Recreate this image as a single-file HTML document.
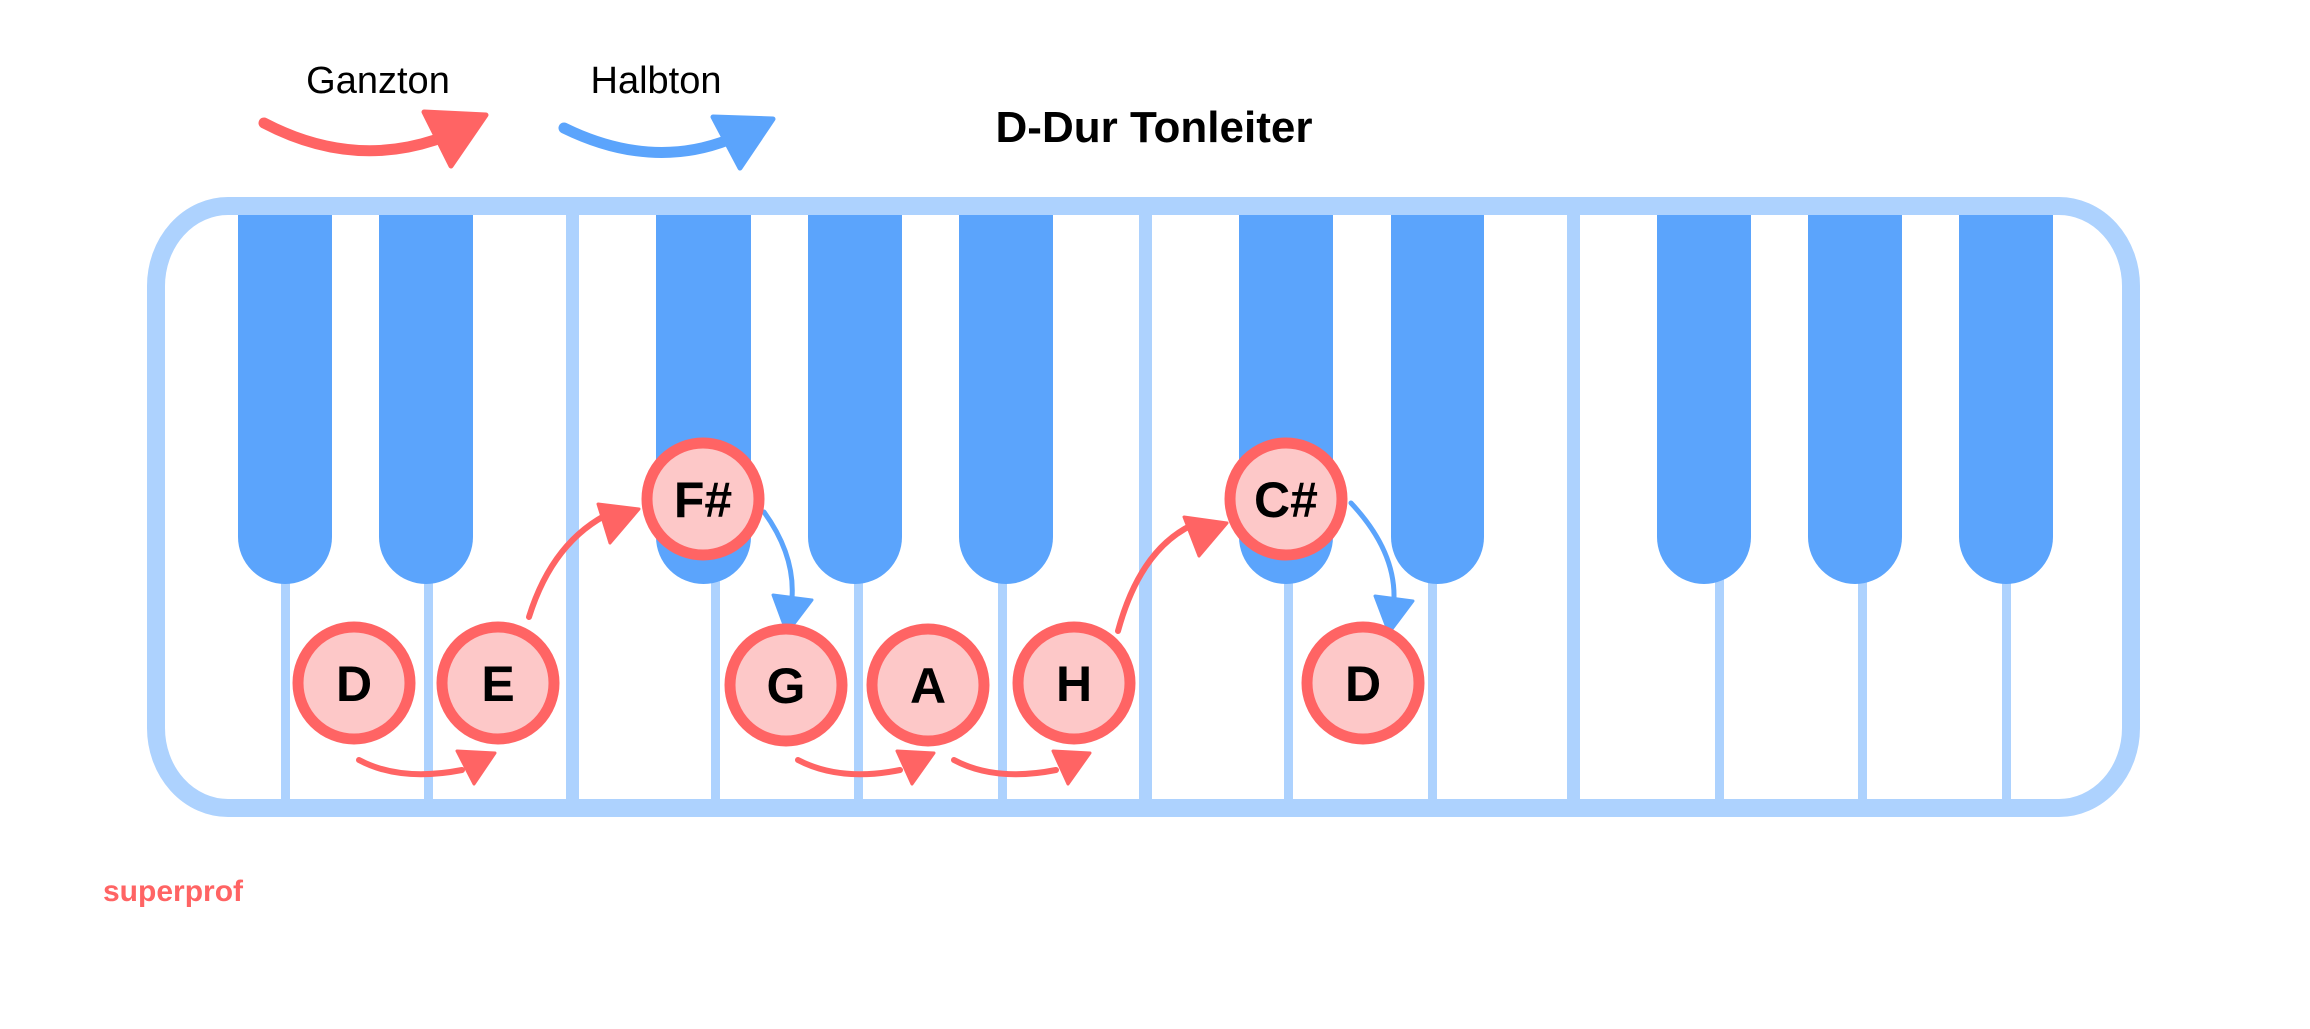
<!DOCTYPE html>
<html><head><meta charset="utf-8"><style>
html,body{margin:0;padding:0;background:#fff;}
svg{display:block;}
</style></head><body>
<svg width="2310" height="1029" viewBox="0 0 2310 1029" xmlns="http://www.w3.org/2000/svg">
<rect width="2310" height="1029" fill="#fff"/>
<!-- legend -->
<text x="378" y="93" font-family="Liberation Sans, sans-serif" font-size="38" text-anchor="middle" fill="#000">Ganzton</text>
<text x="656" y="93" font-family="Liberation Sans, sans-serif" font-size="38" text-anchor="middle" fill="#000">Halbton</text>
<path d="M264,123 Q350,168 435,140" fill="none" stroke="#ff6464" stroke-width="11" stroke-linecap="round"/>
<polygon points="424,112 486,115 451,166" fill="#ff6464" stroke="#ff6464" stroke-width="5" stroke-linejoin="round"/>
<path d="M564,128 Q650,170 728,140" fill="none" stroke="#5ba4fc" stroke-width="11" stroke-linecap="round"/>
<polygon points="713,117 773,119 740,168" fill="#5ba4fc" stroke="#5ba4fc" stroke-width="5" stroke-linejoin="round"/>
<text x="1154" y="142" font-family="Liberation Sans, sans-serif" font-size="44" font-weight="bold" text-anchor="middle" fill="#000">D-Dur Tonleiter</text>
<!-- keyboard frame -->
<rect x="156" y="206" width="1975" height="602" rx="72" ry="80" fill="#fff" stroke="#add2fe" stroke-width="18"/>
<g fill="#add2fe">
<rect x="566" y="206" width="13" height="602"/>
<rect x="1139" y="206" width="13" height="602"/>
<rect x="1567" y="206" width="13" height="602"/>
<rect x="281" y="560" width="9" height="248"/>
<rect x="424" y="560" width="9" height="248"/>
<rect x="711" y="560" width="9" height="248"/>
<rect x="854" y="560" width="9" height="248"/>
<rect x="998" y="560" width="9" height="248"/>
<rect x="1284" y="560" width="9" height="248"/>
<rect x="1428" y="560" width="9" height="248"/>
<rect x="1715" y="560" width="9" height="248"/>
<rect x="1858" y="560" width="9" height="248"/>
<rect x="2002" y="560" width="9" height="248"/>
</g>
<g fill="#5ba4fc">
<path d="M238,215 H332 V537 A47,47 0 0 1 238,537 Z"/>
<path d="M379,215 H473 V537 A47,47 0 0 1 379,537 Z"/>
<path d="M656,215 H751 V537 A47.5,47 0 0 1 656,537 Z"/>
<path d="M808,215 H902 V537 A47,47 0 0 1 808,537 Z"/>
<path d="M959,215 H1053 V537 A47,47 0 0 1 959,537 Z"/>
<path d="M1239,215 H1333 V537 A47,47 0 0 1 1239,537 Z"/>
<path d="M1391,215 H1484 V537 A46.5,47 0 0 1 1391,537 Z"/>
<path d="M1657,215 H1751 V537 A47,47 0 0 1 1657,537 Z"/>
<path d="M1808,215 H1902 V537 A47,47 0 0 1 1808,537 Z"/>
<path d="M1959,215 H2053 V537 A47,47 0 0 1 1959,537 Z"/>
</g>
<g fill="none" stroke-linecap="round">
<path d="M359,760 Q400,782 462,770" stroke="#ff6464" stroke-width="6"/>
<path d="M798,760 Q840,782 900,770" stroke="#ff6464" stroke-width="6"/>
<path d="M954,760 Q995,782 1056,770" stroke="#ff6464" stroke-width="6"/>
<path d="M529,617 Q553,540 612,512" stroke="#ff6464" stroke-width="6"/>
<path d="M1118,631 Q1140,550 1192,525" stroke="#ff6464" stroke-width="6"/>
<path d="M764,512 Q795,555 792,598" stroke="#5ba4fc" stroke-width="5"/>
<path d="M1351,503 Q1395,550 1394,598" stroke="#5ba4fc" stroke-width="5"/>
</g>
<g stroke-linejoin="round" stroke-width="3">
<polygon points="457,751 495,753 474,784" fill="#ff6464" stroke="#ff6464"/>
<polygon points="897,751 934,753 912,784" fill="#ff6464" stroke="#ff6464"/>
<polygon points="1053,751 1090,753 1068,784" fill="#ff6464" stroke="#ff6464"/>
<polygon points="598,504 639,509 610,543" fill="#ff6464" stroke="#ff6464"/>
<polygon points="1184,517 1227,523 1199,556" fill="#ff6464" stroke="#ff6464"/>
<polygon points="773,595 812,600 787,633" fill="#5ba4fc" stroke="#5ba4fc"/>
<polygon points="1375,596 1413,601 1389,633" fill="#5ba4fc" stroke="#5ba4fc"/>
</g>
<g fill="#fdc8c8" stroke="#ff6464" stroke-width="11">
<circle cx="354" cy="683" r="56"/>
<circle cx="498" cy="683" r="56"/>
<circle cx="703" cy="499" r="56"/>
<circle cx="786" cy="685" r="56"/>
<circle cx="928" cy="685" r="56"/>
<circle cx="1074" cy="683" r="56"/>
<circle cx="1286" cy="499" r="56"/>
<circle cx="1363" cy="683" r="56"/>
</g>
<g font-family="Liberation Sans, sans-serif" font-size="50" font-weight="bold" text-anchor="middle" fill="#000">
<text x="354" y="701">D</text>
<text x="498" y="701">E</text>
<text x="703" y="517">F#</text>
<text x="786" y="703">G</text>
<text x="928" y="703">A</text>
<text x="1074" y="701">H</text>
<text x="1286" y="517">C#</text>
<text x="1363" y="701">D</text>
</g>
<text x="103" y="901" font-family="Liberation Sans, sans-serif" font-size="30" font-weight="bold" fill="#ff6464">superprof</text>
</svg>
</body></html>
